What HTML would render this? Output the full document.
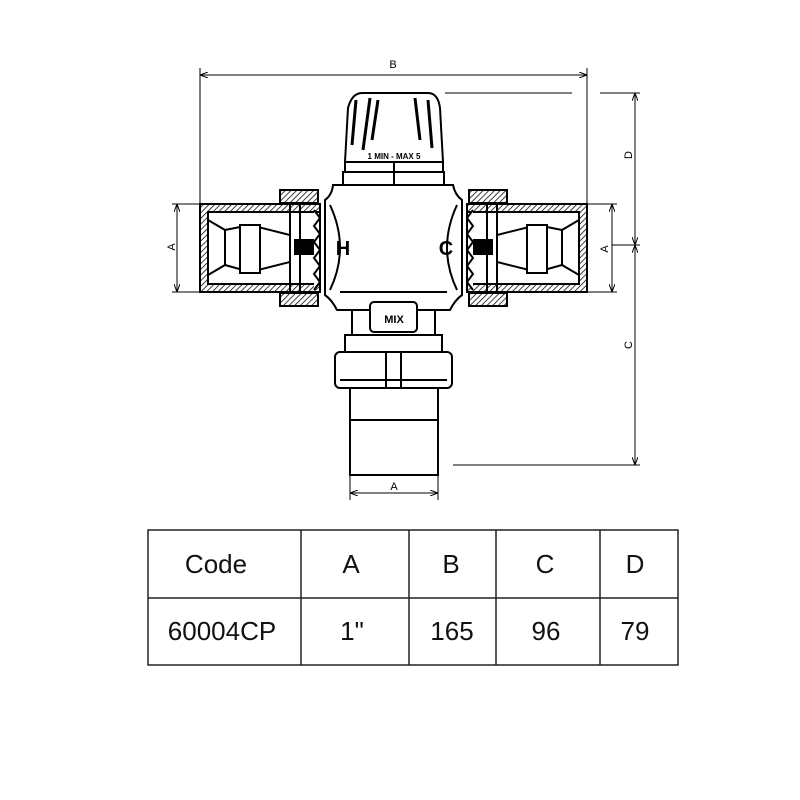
<!DOCTYPE html>
<html><head><meta charset="utf-8"><style>
html,body{margin:0;padding:0;background:#fff;width:800px;height:800px;overflow:hidden}
svg{display:block}
text{font-family:"Liberation Sans",sans-serif}
</style></head><body>
<svg width="800" height="800" viewBox="0 0 800 800" xmlns="http://www.w3.org/2000/svg">
<defs>
<pattern id="h" width="4" height="4" patternUnits="userSpaceOnUse" patternTransform="rotate(45)">
<rect width="4" height="4" fill="#fff"/><line x1="0" y1="0" x2="0" y2="4" stroke="#000" stroke-width="1.5"/></pattern>
<marker id="a" markerWidth="8" markerHeight="6" refX="8" refY="3" orient="auto-start-reverse"><path d="M0,0 L8,3 L0,6" fill="none" stroke="#000" stroke-width="1"/></marker>
</defs>
<g stroke="#000" fill="none" stroke-width="1">
<line x1="200" y1="75" x2="587" y2="75" marker-start="url(#a)" marker-end="url(#a)"/>
<line x1="200" y1="68" x2="200" y2="205"/><line x1="587" y1="68" x2="587" y2="205"/>
<line x1="600" y1="93" x2="640" y2="93"/><line x1="453" y1="465" x2="640" y2="465"/>
<line x1="612" y1="245" x2="640" y2="245"/>
<line x1="635" y1="93" x2="635" y2="245" marker-start="url(#a)" marker-end="url(#a)"/>
<line x1="635" y1="245" x2="635" y2="465" marker-start="url(#a)" marker-end="url(#a)"/>
<line x1="445" y1="93" x2="572" y2="93"/>
<line x1="172" y1="204" x2="205" y2="204"/><line x1="172" y1="292" x2="205" y2="292"/>
<line x1="177" y1="204" x2="177" y2="292" marker-start="url(#a)" marker-end="url(#a)"/>
<line x1="585" y1="204" x2="617" y2="204"/><line x1="585" y1="292" x2="617" y2="292"/>
<line x1="612" y1="204" x2="612" y2="292" marker-start="url(#a)" marker-end="url(#a)"/>
<line x1="350" y1="475" x2="350" y2="500"/><line x1="438" y1="475" x2="438" y2="500"/>
<line x1="350" y1="493" x2="438" y2="493" marker-start="url(#a)" marker-end="url(#a)"/>
</g>
<g font-size="11" fill="#000">
<text x="393" y="68" text-anchor="middle">B</text>
<text transform="translate(175,247) rotate(-90)" text-anchor="middle">A</text>
<text transform="translate(608,249) rotate(-90)" text-anchor="middle">A</text>
<text transform="translate(632,155) rotate(-90)" text-anchor="middle">D</text>
<text transform="translate(632,345) rotate(-90)" text-anchor="middle">C</text>
<text x="394" y="490" text-anchor="middle">A</text>
</g>
<g stroke="#000" stroke-width="2" fill="#fff">
<path d="M345,162 L348,108 Q352,93 362,93 L428,93 Q438,93 440,108 L443,162 Z"/>
<path d="M352,145 L356,100 M363,150 L370,98 M372,140 L378,100 M420,140 L415,98 M432,148 L428,100" stroke-width="3"/>
<rect x="345" y="162" width="98" height="10"/>
<rect x="343" y="172" width="101" height="13"/>
<line x1="394" y1="162" x2="394" y2="185"/>
<path d="M333,185 L453,185 Q455,195 462,200 L462,295 Q455,300 450,310 L337,310 Q332,300 325,295 L325,200 Q332,195 333,185 Z"/>
<line x1="340" y1="292" x2="447" y2="292"/>
<path d="M330,205 Q350,248 330,290 M457,205 Q437,248 457,290"/>
<rect x="200" y="204" width="120" height="88" fill="url(#h)"/>
<rect x="208" y="212" width="112" height="72"/>
<path d="M208,220 L225,230 L225,265 L208,275 Z M225,230 L250,225 L290,235 L290,262 L250,272 L225,265"/>
<rect x="240" y="225" width="20" height="48"/>
<rect x="280" y="190" width="38" height="13" fill="url(#h)"/>
<rect x="280" y="293" width="38" height="13" fill="url(#h)"/>
<line x1="290" y1="204" x2="290" y2="292"/><line x1="300" y1="204" x2="300" y2="292"/>
<path d="M314,210 L320,218 L314,226 L320,234 L314,242 L320,250 L314,258 L320,266 L314,274 L320,282 L314,290"/>
<rect x="295" y="240" width="18" height="14" fill="#000"/>
<rect x="467" y="204" width="120" height="88" fill="url(#h)"/>
<rect x="467" y="212" width="112" height="72"/>
<path d="M579,220 L562,230 L562,265 L579,275 Z M562,230 L537,225 L497,235 L497,262 L537,272 L562,265"/>
<rect x="527" y="225" width="20" height="48"/>
<rect x="469" y="190" width="38" height="13" fill="url(#h)"/>
<rect x="469" y="293" width="38" height="13" fill="url(#h)"/>
<line x1="497" y1="204" x2="497" y2="292"/><line x1="487" y1="204" x2="487" y2="292"/>
<path d="M473,210 L467,218 L473,226 L467,234 L473,242 L467,250 L473,258 L467,266 L473,274 L467,282 L473,290"/>
<rect x="474" y="240" width="18" height="14" fill="#000"/>
<rect x="352" y="310" width="83" height="25"/>
<rect x="370" y="302" width="47" height="30" rx="4"/>
<rect x="345" y="335" width="97" height="17"/>
<rect x="335" y="352" width="117" height="36" rx="5"/>
<line x1="386" y1="352" x2="386" y2="388"/><line x1="401" y1="352" x2="401" y2="388"/>
<line x1="340" y1="380" x2="447" y2="380"/>
<rect x="350" y="388" width="88" height="87"/>
<line x1="350" y1="420" x2="438" y2="420"/>
</g>
<g font-family="Liberation Sans" font-weight="bold" fill="#000">
<text x="394" y="159" font-size="8" text-anchor="middle">1 MIN - MAX 5</text>
<text x="343" y="255" font-size="20" text-anchor="middle">H</text>
<text x="446" y="255" font-size="20" text-anchor="middle">C</text>
<text x="394" y="323" font-size="11" text-anchor="middle">MIX</text>
</g>
<g stroke="#222" stroke-width="1.5" fill="none">
<rect x="148" y="530" width="530" height="135"/>
<line x1="148" y1="598" x2="678" y2="598"/>
<line x1="301" y1="530" x2="301" y2="665"/>
<line x1="409" y1="530" x2="409" y2="665"/>
<line x1="496" y1="530" x2="496" y2="665"/>
<line x1="600" y1="530" x2="600" y2="665"/>
</g>
<g font-size="26" fill="#111" text-anchor="middle">
<text x="216" y="573">Code</text><text x="351" y="573">A</text><text x="451" y="573">B</text><text x="545" y="573">C</text><text x="635" y="573">D</text>
<text x="222" y="640">60004CP</text><text x="352" y="640">1"</text><text x="452" y="640">165</text><text x="546" y="640">96</text><text x="635" y="640">79</text>
</g>
</svg>
</body></html>
